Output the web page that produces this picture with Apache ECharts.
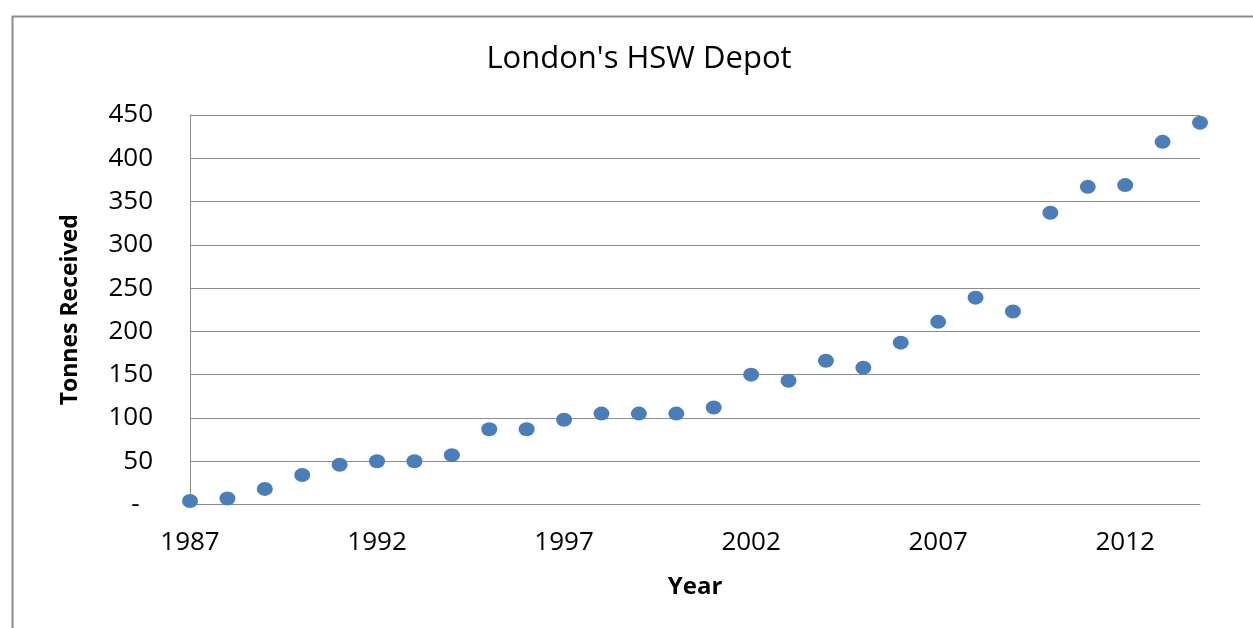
<!DOCTYPE html>
<html>
<head>
<meta charset="utf-8">
<script src="https://cdn.jsdelivr.net/npm/echarts@6/dist/echarts.min.js"></script>
<style>
html,body{margin:0;padding:0;background:#fff;}
#chart{width:1253px;height:628px;}
</style>
</head>
<body>
<div id="chart"></div>
<script>
const years = ['1987','1988','1989','1990','1991','1992','1993','1994','1995','1996','1997','1998','1999','2000','2001','2002','2003','2004','2005','2006','2007','2008','2009','2010','2011','2012','2013','2014'];
const tonnes = [4,7,18,34,46,50,50,57,87,87,98,105,105,105,112,150,143,166,158,187,211,239,223,337,367,369,419,441];
const chartTitle = "London's HSW Depot";
const xName = 'Year';
const yName = 'Tonnes Received';

const FONT = '"Open Sans", sans-serif';
const chart = echarts.init(document.getElementById('chart'), null, {renderer:'canvas'});
chart.setOption({
  backgroundColor:'#fff',
  animation:false,
  graphic:[{
    type:'rect', left:10, top:14, silent:true,
    shape:{x:0,y:0,width:1300,height:700},
    style:{fill:'none', stroke:'#8c8c8c', lineWidth:2}
  }],
  title:{
    text:chartTitle,
    left:634, top:39, textAlign:'center',
    textStyle:{fontFamily:FONT, fontSize:31, fontWeight:'normal', color:'#000'}
  },
  grid:{left:190, top:115, right:53, bottom:123.5, containLabel:false},
  xAxis:{
    type:'category',
    data:years,
    boundaryGap:false,
    name:xName,
    nameLocation:'middle',
    nameGap:71,
    nameTextStyle:{fontFamily:FONT, fontSize:24, fontWeight:'bold', color:'#000'},
    axisLine:{show:true, lineStyle:{color:'#8c8c8c', width:1}},
    axisTick:{show:false},
    axisLabel:{interval:4, margin:25, fontFamily:FONT, fontSize:26, color:'#000'},
    splitLine:{show:false}
  },
  yAxis:{
    type:'value',
    min:0, max:450, interval:50,
    name:yName,
    nameLocation:'middle',
    nameGap:108,
    nameTextStyle:{fontFamily:FONT, fontSize:23, fontWeight:'bold', color:'#000'},
    axisLine:{show:true, lineStyle:{color:'#8c8c8c', width:1}},
    axisTick:{show:false},
    axisLabel:{margin:37, fontFamily:FONT, fontSize:26, color:'#000',
      formatter:function(v){return v===0?'-  ':String(v);}},
    splitLine:{show:true, lineStyle:{color:'#8c8c8c', width:1}}
  },
  series:[{
    type:'scatter',
    data:tonnes,
    symbol:'circle',
    symbolSize:[16,14],
    itemStyle:{color:'#4a7ebb', opacity:1}
  }]
});
</script>
</body>
</html>
